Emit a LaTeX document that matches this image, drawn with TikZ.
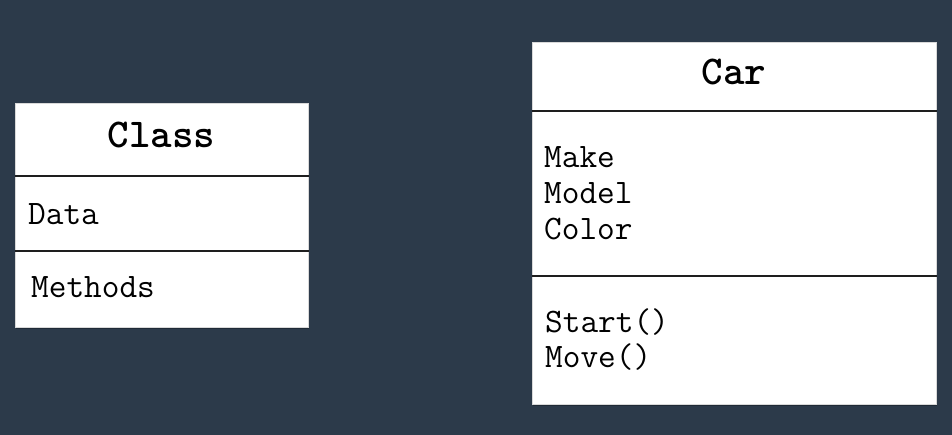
\documentclass[tikz,border=0pt]{standalone}
\usepackage{fontspec}
\definecolor{bgc}{HTML}{2C3A4A}
\definecolor{linec}{HTML}{1E1E1E}
\definecolor{shadowc}{HTML}{1F2A36}
\tikzset{
  umlbox/.style={rectangle, fill=white, draw=white!85!black, line width=0.6pt, inner sep=0pt, anchor=north west},
  sepline/.style={draw=linec, line width=2pt},
  titletext/.style={anchor=base, inner sep=0pt, font=\ttfamily\fontsize{41}{46}\selectfont\bfseries, text=black},
  bodytext/.style={anchor=base west, inner sep=0pt, font=\ttfamily\fontsize{34.3}{36}\selectfont, text=black}
}
\begin{document}
\begin{tikzpicture}[x=1pt, y=-1pt]
\fill[bgc] (0,0) rectangle (952,435);
\useasboundingbox (0,0) rectangle (952,435);

% Class box
\fill[shadowc] (16,105) rectangle (309,329);
\node[umlbox, minimum width=293pt, minimum height=224pt] (cls) at (15,103) {};
\coordinate (c1) at (15,176);
\coordinate (c2) at (15,251);
\draw[sepline] (c1) -- (c1 -| cls.east);
\draw[sepline] (c2) -- (c2 -| cls.east);
\node[titletext] (clsname) at (161.5,148) {Class};
\node[bodytext] (clsdata) at (28,225) {Data};
\node[bodytext] (clsmeth) at (31,298) {Methods};

% Car box
\fill[shadowc] (533,44) rectangle (937,406);
\node[umlbox, minimum width=404pt, minimum height=362pt] (car) at (532,42) {};
\coordinate (r1) at (532,111);
\coordinate (r2) at (532,276);
\draw[sepline] (r1) -- (r1 -| car.east);
\draw[sepline] (r2) -- (r2 -| car.east);
\node[titletext] (carname) at (734,85) {Car};
\node[bodytext] (make) at (544,168) {Make};
\node[bodytext] (model) at (544,204) {Model};
\node[bodytext] (color) at (544,240) {Color};
\node[bodytext] (start) at (545,332) {Start()};
\node[bodytext] (move) at (545,367) {Move()};
\end{tikzpicture}
\end{document}
